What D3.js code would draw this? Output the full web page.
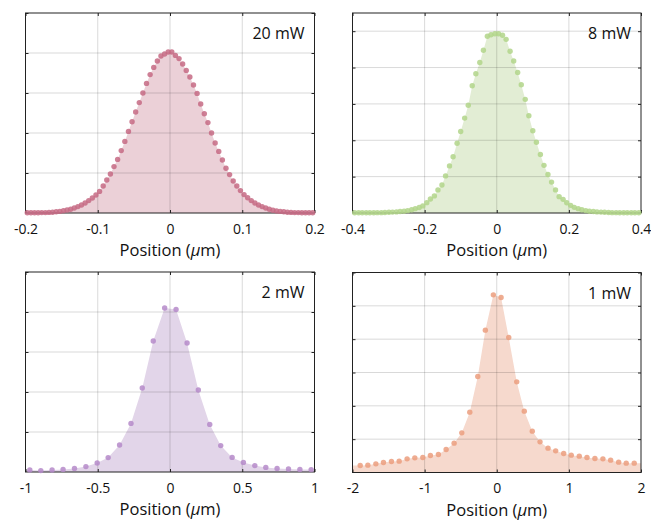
<!DOCTYPE html>
<html>
<head>
<meta charset="utf-8">
<script src="https://cdn.jsdelivr.net/npm/d3@7"></script>
<style>
	body { margin: 0; background: #fff; }
	svg { display: block; font-family: 'Open Sans', 'DejaVu Sans', sans-serif; }
	.tick text { font-size: 14px; fill: #111; }
	.axis-title { font-size: 16.5px; fill: #111; }
	.power { font-size: 16px; fill: #111; }
</style>
</head>
<body>
<svg id="chart-svg" width="651" height="520"></svg>
<script>
// data (intensity, arbitrary units)

const powerLabels = ['20 mW', '8 mW', '2 mW', '1 mW'];

const pos20 = [
	-0.1975, -0.1925, -0.1875, -0.1825, -0.1775, -0.1725, -0.1675, -0.1625, -0.1575, -0.1525,
	-0.1475, -0.1425, -0.1375, -0.1325, -0.1275, -0.1225, -0.1175, -0.1125, -0.1075, -0.1025,
	-0.0975, -0.0925, -0.0875, -0.0825, -0.0775, -0.0725, -0.0675, -0.0625, -0.0575, -0.0525,
	-0.0475, -0.0425, -0.0375, -0.0325, -0.0275, -0.0225, -0.0175, -0.0125, -0.0075, -0.0025,
	0.0025, 0.0075, 0.0125, 0.0175, 0.0225, 0.0275, 0.0325, 0.0375, 0.0425, 0.0475,
	0.0525, 0.0575, 0.0625, 0.0675, 0.0725, 0.0775, 0.0825, 0.0875, 0.0925, 0.0975,
	0.1025, 0.1075, 0.1125, 0.1175, 0.1225, 0.1275, 0.1325, 0.1375, 0.1425, 0.1475,
	0.1525, 0.1575, 0.1625, 0.1675, 0.1725, 0.1775, 0.1825, 0.1875, 0.1925, 0.1975
];
const int20 = [
	0.001, 0.001, 0.001, 0.001, 0.002, 0.002, 0.003, 0.004, 0.006, 0.008,
	0.011, 0.015, 0.019, 0.025, 0.032, 0.040, 0.050, 0.062, 0.075, 0.090,
	0.108, 0.135, 0.165, 0.195, 0.232, 0.268, 0.312, 0.358, 0.408, 0.456,
	0.505, 0.552, 0.600, 0.648, 0.692, 0.728, 0.760, 0.785, 0.795, 0.805,
	0.805, 0.788, 0.772, 0.745, 0.713, 0.680, 0.640, 0.598, 0.545, 0.496,
	0.452, 0.400, 0.350, 0.308, 0.265, 0.224, 0.192, 0.160, 0.135, 0.112,
	0.092, 0.076, 0.062, 0.050, 0.040, 0.032, 0.025, 0.019, 0.014, 0.010,
	0.008, 0.006, 0.004, 0.003, 0.002, 0.002, 0.001, 0.001, 0.001, 0.001
];

const pos8 = [
	-0.394, -0.383, -0.373, -0.362, -0.352, -0.341, -0.331, -0.320, -0.310, -0.299,
	-0.289, -0.278, -0.268, -0.257, -0.247, -0.236, -0.226, -0.215, -0.205, -0.194,
	-0.184, -0.173, -0.163, -0.152, -0.142, -0.131, -0.121, -0.110, -0.100, -0.089,
	-0.079, -0.068, -0.058, -0.047, -0.037, -0.026, -0.016, -0.005,
	0.005, 0.016, 0.026, 0.037, 0.047, 0.058, 0.068, 0.079, 0.089, 0.100,
	0.110, 0.121, 0.131, 0.142, 0.152, 0.163, 0.173, 0.184, 0.194, 0.205,
	0.215, 0.226, 0.236, 0.247, 0.257, 0.268, 0.278, 0.289, 0.299, 0.310,
	0.320, 0.331, 0.341, 0.352, 0.362, 0.373, 0.383, 0.394
];
const int8 = [
	0.001, 0.001, 0.001, 0.001, 0.001, 0.001, 0.002, 0.002, 0.003, 0.004,
	0.005, 0.006, 0.008, 0.010, 0.013, 0.018, 0.024, 0.030, 0.039, 0.057,
	0.077, 0.094, 0.127, 0.154, 0.204, 0.259, 0.309, 0.384, 0.448, 0.522,
	0.593, 0.700, 0.766, 0.828, 0.895, 0.972, 0.980, 0.986,
	0.986, 0.978, 0.955, 0.890, 0.836, 0.773, 0.705, 0.625, 0.535, 0.452,
	0.389, 0.322, 0.262, 0.212, 0.170, 0.127, 0.090, 0.075, 0.056, 0.042,
	0.031, 0.024, 0.018, 0.013, 0.010, 0.008, 0.006, 0.005, 0.004, 0.003,
	0.002, 0.002, 0.001, 0.001, 0.001, 0.001, 0.001, 0.001
];

const pos2 = [
	-0.970, -0.894, -0.816, -0.740, -0.661, -0.582, -0.504, -0.428, -0.349, -0.270,
	-0.192, -0.116, -0.037, 0.042, 0.118, 0.196, 0.275, 0.351, 0.430, 0.508,
	0.587, 0.663, 0.741, 0.820, 0.899, 0.977
];
const int2 = [
	0.010, 0.007, 0.010, 0.013, 0.018, 0.027, 0.045, 0.072, 0.135, 0.243,
	0.420, 0.655, 0.820, 0.813, 0.645, 0.410, 0.238, 0.132, 0.073, 0.048,
	0.032, 0.023, 0.018, 0.015, 0.013, 0.012
];

const pos1 = [
	-1.893, -1.787, -1.676, -1.571, -1.460, -1.353, -1.243, -1.136, -1.025, -0.920,
	-0.809, -0.702, -0.591, -0.485, -0.374, -0.263, -0.158, -0.047, 0.060, 0.166,
	0.277, 0.382, 0.493, 0.600, 0.711, 0.817, 0.928, 1.033, 1.144, 1.251,
	1.361, 1.472, 1.579, 1.690, 1.795, 1.906
];
const int1 = [
	0.042, 0.044, 0.052, 0.060, 0.066, 0.068, 0.082, 0.088, 0.090, 0.102,
	0.108, 0.138, 0.176, 0.238, 0.362, 0.576, 0.854, 1.066, 1.050, 0.810,
	0.544, 0.368, 0.248, 0.184, 0.146, 0.130, 0.114, 0.104, 0.098, 0.090,
	0.084, 0.082, 0.074, 0.062, 0.056, 0.056
];

// axis ticks and labels
const xTicks = [
	[-0.2, -0.1, 0, 0.1, 0.2],
	[-0.4, -0.2, 0, 0.2, 0.4],
	[-1, -0.5, 0, 0.5, 1],
	[-2, -1, 0, 1, 2]
];
const xTickLabels = [
	['-0.2', '-0.1', '0', '0.1', '0.2'],
	['-0.4', '-0.2', '0', '0.2', '0.4'],
	['-1', '-0.5', '0', '0.5', '1'],
	['-2', '-1', '0', '1', '2']
];
const yTicks = [0.2, 0.4, 0.6, 0.8, 1.0, 1.2];
const yMax = [1, 1.1, 1, 1.2];

const dotColors = ['#c66a84', '#b2d58a', '#b589c9', '#eb9d7e'];
const fillColors = ['#ebd0d7', '#e2edd4', '#e2d5e9', '#f6d9cd'];

const panels = [
	{ xs: pos20, ys: int20, box: [25.5, 13, 314.5, 213] },
	{ xs: pos8, ys: int8, box: [352.5, 13, 641, 213] },
	{ xs: pos2, ys: int2, box: [25.5, 272, 314.5, 472] },
	{ xs: pos1, ys: int1, box: [352.5, 272.5, 641, 472.5] }
];

const svg = d3.select('#chart-svg');

panels.forEach((p, i) => drawPanel(svg, p, i));

function drawPanel(svg, p, i) {
	const [x0, y0, x1, y1] = p.box;
	const ticks = xTicks[i];
	const xScale = d3.scaleLinear([ticks[0], ticks[ticks.length - 1]], [x0, x1]);
	const yScale = d3.scaleLinear([0, yMax[i]], [y1, y0]);
	const points = p.xs.map((x, k) => ({ x: x, y: p.ys[k] }));

	const g = svg.append('g').attr('class', 'panel');

	g.append('clipPath').attr('id', 'clip' + i)
		.append('rect')
		.attr('x', x0).attr('y', y0)
		.attr('width', x1 - x0).attr('height', y1 - y0);

	// shaded profile, held flat out to the frame edges
	const areaPts = [{ x: ticks[0], y: points[0].y }]
		.concat(points)
		.concat([{ x: ticks[ticks.length - 1], y: points[points.length - 1].y }]);
	const area = d3.area()
		.x((d) => xScale(d.x))
		.y0(y1)
		.y1((d) => yScale(d.y));
	g.append('path')
		.datum(areaPts)
		.attr('clip-path', 'url(#clip' + i + ')')
		.attr('fill', fillColors[i])
		.attr('d', area);

	// grid
	const grid = g.append('g').attr('class', 'grid')
		.attr('stroke', '#000').attr('stroke-opacity', 0.15).attr('stroke-width', 1);
	grid.selectAll('line.gx')
		.data(ticks.slice(1, -1))
		.enter().append('line')
		.attr('class', 'gx')
		.attr('x1', (d) => xScale(d)).attr('x2', (d) => xScale(d))
		.attr('y1', y0).attr('y2', y1);
	grid.selectAll('line.gy')
		.data(yTicks.filter((t) => t < yMax[i] - 1e-9))
		.enter().append('line')
		.attr('class', 'gy')
		.attr('x1', x0).attr('x2', x1)
		.attr('y1', (d) => yScale(d)).attr('y2', (d) => yScale(d));

	// inward ticks on every side
	const yt = yTicks.filter((t) => t <= yMax[i] + 1e-9);
	const bottom = d3.axisBottom(xScale).tickValues(ticks)
		.tickFormat((d, k) => xTickLabels[i][k])
		.tickSize(-3).tickPadding(11);
	const bAxis = g.append('g').attr('transform', `translate(0,${y1})`).call(bottom);
	g.append('g').attr('transform', `translate(0,${y0})`)
		.call(d3.axisTop(xScale).tickValues(ticks).tickFormat('').tickSize(-3));
	g.append('g').attr('transform', `translate(${x0},0)`)
		.call(d3.axisLeft(yScale).tickValues(yt).tickFormat('').tickSize(-3));
	g.append('g').attr('transform', `translate(${x1},0)`)
		.call(d3.axisRight(yScale).tickValues(yt).tickFormat('').tickSize(-3));
	g.selectAll('.domain').remove();
	g.selectAll('.tick line').attr('stroke', '#222');
	bAxis.selectAll('text').attr('font-family', null).attr('font-size', null);
	bAxis.attr('font-family', null).attr('font-size', null);

	// frame
	g.append('rect')
		.attr('x', x0).attr('y', y0)
		.attr('width', x1 - x0).attr('height', y1 - y0)
		.attr('fill', 'none').attr('stroke', '#222').attr('stroke-width', 1);

	// measured points
	g.append('g')
		.selectAll('circle')
		.data(points)
		.enter().append('circle')
		.attr('cx', (d) => xScale(d.x))
		.attr('cy', (d) => yScale(d.y))
		.attr('r', 2.7)
		.attr('fill', dotColors[i])
		.attr('fill-opacity', 0.85);

	// power label
	g.append('text')
		.attr('class', 'power')
		.attr('x', x1 - 10).attr('y', y0 + 26)
		.attr('text-anchor', 'end')
		.text(powerLabels[i]);

	// x axis title
	const title = g.append('text')
		.attr('class', 'axis-title')
		.attr('x', (x0 + x1) / 2).attr('y', y1 + 43)
		.attr('text-anchor', 'middle');
	title.append('tspan').text('Position (');
	title.append('tspan').attr('font-style', 'italic').text('μ');
	title.append('tspan').text('m)');
}
</script>
</body>
</html>
